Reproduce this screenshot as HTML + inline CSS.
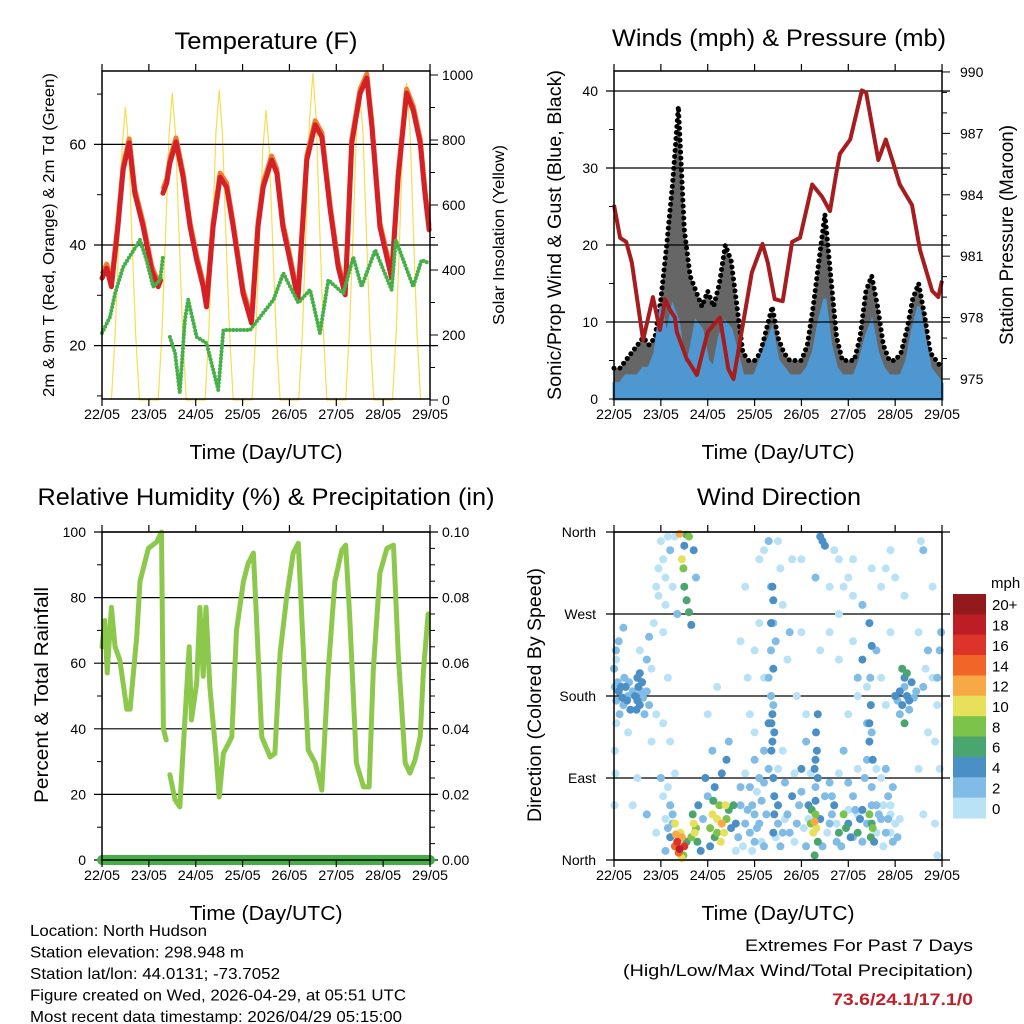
<!DOCTYPE html>
<html><head><meta charset="utf-8"><style>
html,body{margin:0;padding:0;background:#fff;}
svg{display:block;font-family:"Liberation Sans",Arial,sans-serif;}
</style></head><body>
<svg id="chart" width="1024" height="1024" viewBox="0 0 1024 1024" xmlns="http://www.w3.org/2000/svg"></svg>
<script>
// ---------- DATA ----------
const dayLabels = ["22/05","23/05","24/05","25/05","26/05","27/05","28/05","29/05"];
const tempDays = [0,.1,.2,.34,.45,.58,.7,.88,1.06,1.2,1.25,null,1.3,1.38,1.45,1.58,1.73,1.88,2.02,2.16,2.23,2.37,2.52,2.66,2.8,3.01,3.19,3.33,3.44,3.62,3.73,3.86,4.01,4.18,4.37,4.55,4.69,4.87,5.04,5.19,5.33,5.51,5.65,5.76,5.93,6.18,6.32,6.5,6.64,6.79,6.89,6.98];
const tempVals = [33.4,35.4,31.7,43.6,54.9,60.3,50.3,43.6,35,31.7,33,null,50.3,52.3,56.3,60.5,53.5,43.6,37,31.7,27.7,43.6,53.5,51.5,43.6,30.4,24.5,43.6,51.5,56.9,54.3,43.6,37,29.1,56.9,63.9,61.5,47,35.6,30.1,60.3,70.2,73.2,63.5,43.6,33.4,53.5,70.2,66.8,60.3,50.3,43];
const dewDays = [0,.17,.28,.45,.81,.95,1.09,1.24,1.3,null,1.45,1.56,1.66,1.77,1.84,2.02,2.23,2.48,2.59,2.8,3.16,3.44,3.66,3.87,4.19,4.44,4.65,4.83,5.15,5.36,5.54,5.83,6.18,6.27,6.43,6.64,6.82,6.98];
const dewVals = [22.5,25.7,30.4,35.6,41,37,31.7,33,37.6,null,21.7,18.5,10.6,25.1,29.1,21.7,20.5,11.2,23.1,23.1,23.1,26.5,29.1,34.4,28.5,31.1,22.5,33,30.4,37.6,31.7,39,31.1,41,37,31.7,37,36.4];
const solarPeaks = [902,945,954,892,1006,954,975];
const solarShapeOffsets = [.2,.28,.36,.43,.5,.57,.64,.72,.8];
const solarShapeFrac = [0,.22,.55,.86,1,.86,.55,.22,0];
const windVals = [2,2,3,3,3,4,4,6,12,8,12,10,4,6,10,9,5,4,8,10,9,6,3,3,3,5,7,9,5,4,3,3,3,4,6,10,13,7,4,3,3,3,5,8,10,6,4,3,3,3,5,9,12,8,4,3,2];
const gustVals = [4,4,5,6,7,8,7,8,13,20,28,38,22,16,14,12,14,12,15,20,18,12,6,5,5,6,9,12,8,6,5,5,5,7,12,18,24,16,8,5,5,5,8,14,16,12,7,5,5,6,9,13,15,11,6,5,4];
const presDays = [0,.13,.26,.38,.62,.83,.98,1.09,1.19,1.3,1.34,1.55,1.77,2.0,2.15,2.26,2.44,2.55,2.94,3.17,3.28,3.43,3.6,3.8,3.97,4.23,4.44,4.61,4.74,4.82,5.04,5.29,5.38,5.64,5.8,5.94,6.1,6.36,6.53,6.79,6.92,7];
const presVals = [983.5,981.9,981.7,980.7,976.9,979,977.4,978.9,978.4,978,977.3,976,975.2,977.3,977.7,978,975.5,975,980.2,981.6,980.7,978.9,978.8,981.7,981.9,984.5,983.9,983.2,985,986,986.7,989.1,989,985.7,986.7,985.7,984.5,983.5,981.3,979.3,979,979.8];
const rhDays = [0,.06,.11,.2,.28,.38,.53,.6,.74,.81,.99,1.17,1.27,1.31,1.37,null,1.45,1.56,1.66,1.77,1.86,1.91,2.02,2.09,2.16,2.22,2.3,2.43,2.5,2.59,2.77,2.87,3.02,3.12,3.23,3.3,3.41,3.59,3.69,3.8,3.94,4.08,4.19,4.3,4.4,4.55,4.69,4.83,4.97,5.12,5.2,5.29,5.43,5.58,5.7,5.79,5.93,6.08,6.22,6.32,6.47,6.57,6.68,6.79,6.86,6.96];
const rhVals = [65,73,57,77,65,61,46,46,68,85,95,97,100,40,36.6,null,26,18.3,16.2,42.7,65,42.7,54,77,56,77,53,32.5,19.2,32.5,37.5,70,85,90.5,93.6,73,37.5,31.4,32.5,63,80,93.6,96.6,63,33.5,29.6,21.3,58,85,94.5,96,73,29.6,22.3,22.3,58,87.5,95,96,63,29.6,26.5,30.5,37.5,58,75];
const precipDays = [0,7];
const precipVals = [0,0];
const dirPoints = [
[.05,175,3],[.1,185,4],[.12,160,2],[.15,190,4],[.18,178,4],[.2,170,3],[.22,200,3],[.25,190,4],[.28,175,4],[.3,180,3],[.32,195,3],[.35,165,4],[.4,185,2],[.08,195,2],[.05,150,1],[.02,120,1],[.1,240,2],[.2,255,3],[.05,220,1],[.0,210,2],[.02,190,2],[.04,230,2],[.01,60,1],[.03,95,1],
[.45,180,4],[.5,175,4],[.52,190,4],[.55,170,4],[.5,200,4],[.58,185,3],[.6,195,4],[.48,165,4],[.55,205,4],[.62,178,3],[.65,160,2],[.7,185,3],[.75,170,2],[.8,210,1],[.9,160,1],[.55,230,1],[.7,220,2],[.75,245,2],[.8,130,1],
[.9,300,1],[1.0,350,1],[.95,320,1],[1.1,280,1],[1.2,340,2],[1.3,355,1],[1.25,300,1],[1.35,270,2],[1.05,250,1],[.85,260,1],[1.15,200,1],[1.05,150,1],
[1.4,358,12],[1.55,357,6],[1.6,355,8],[1.5,345,4],[1.48,320,8],[1.5,300,6],[1.45,330,10],[1.55,285,6],[1.6,272,6],[1.65,258,4],[1.7,340,4],[1.75,310,3],
[1.3,15,14],[1.35,20,16],[1.4,12,18],[1.45,25,12],[1.38,8,14],[1.42,30,10],[1.5,15,16],[1.32,28,12],[1.48,5,8],[1.55,20,6],[1.2,25,4],[1.1,10,2],[1.15,35,2],[1.25,50,2],[1.05,70,1],[1.3,40,10],[1.45,2,10],
[1.65,25,8],[1.7,40,10],[1.75,35,8],[1.78,20,6],[1.68,50,6],[1.72,30,10],[1.8,60,4],[1.85,10,4],[1.9,45,3],[1.95,90,4],[2.0,70,2],
[2.05,35,8],[2.1,50,10],[2.15,25,6],[2.2,45,10],[2.25,60,8],[2.3,40,12],[2.35,30,10],[2.4,45,8],[2.45,55,6],[2.2,30,8],[2.12,65,6],[2.28,20,10],[2.38,60,10],[2.5,35,4],[2.55,60,6],[2.6,40,4],[2.15,80,4],[2.3,95,4],[2.4,110,4],[2.05,15,4],[2.1,120,2],[2.45,130,2],[2.0,160,1],[2.2,190,1],
[2.7,60,2],[2.8,40,3],[2.9,80,2],[3.0,50,3],[3.1,90,2],[3.2,120,3],[3.3,150,4],[3.35,180,3],[3.4,210,4],[3.45,240,3],[3.3,100,2],[3.5,60,4],[3.6,30,2],[3.7,50,3],[3.8,70,4],[3.9,40,3],[4.0,100,4],[4.1,130,3],[4.15,60,4],
[3.38,160,4],[3.42,140,4],[3.36,120,4],[3.4,90,4],[3.42,70,4],[3.3,200,3],[3.35,230,3],[3.35,260,4],[3.4,285,4],[3.38,300,4],[2.9,30,3],[3.0,20,2],[3.1,40,3],[3.2,15,2],[2.95,60,3],[3.15,65,3],[3.5,40,3],
[4.2,40,8],[4.25,30,10],[4.3,50,8],[4.35,20,6],[4.28,42,12],[4.22,55,6],[4.32,35,10],[4.4,45,4],[4.5,70,3],[4.3,65,4],[4.35,90,4],[4.3,110,4],[4.28,5,6],
[3.2,200,1],[3.0,140,1],[2.9,160,1],[3.6,280,1],[3.8,330,1],[4.0,250,1],[2.8,300,1],[3.1,330,1],[4.6,300,1],[4.7,340,1],[4.45,350,4],[4.5,345,4],[4.4,355,4],[3.4,260,3],[3.35,300,2],[3.3,350,2],[2.7,240,1],[2.85,200,1],[3.7,220,1],[3.9,180,1],[4.1,160,1],[3.6,120,1],[3.75,250,2],
[4.6,40,3],[4.7,60,4],[4.8,30,6],[4.9,50,8],[5.0,40,4],[5.1,70,3],[5.2,30,6],[5.3,55,4],[5.4,40,3],[5.5,60,2],[4.95,35,6],[5.05,25,4],[5.15,55,2],[5.25,45,4],[4.75,20,2],[4.65,70,2],
[4.9,120,2],[5.0,160,1],[5.2,200,2],[5.4,150,2],[5.6,100,1],[5.8,170,1],[5.9,250,1],[5.5,320,1],[5.3,280,2],[5.0,310,1],[4.8,270,1],[5.7,300,1],[5.9,340,1],[5.6,230,2],[5.4,110,3],[5.35,90,3],[5.45,130,4],[5.3,220,4],[5.1,330,1],
[5.5,40,6],[5.45,50,8],[5.48,25,6],[5.52,35,8],[5.55,20,4],[5.6,60,2],[5.7,45,2],[5.8,30,2],[5.85,70,2],[5.9,50,1],[5.95,20,2],[6.0,40,1],[5.75,15,1],
[6.0,180,4],[6.05,175,3],[6.1,185,4],[6.15,170,4],[6.2,190,3],[6.25,180,4],[6.3,165,3],[6.35,195,4],[6.4,178,3],[6.45,185,2],[6.1,160,3],[6.2,200,4],[6.3,175,4],[6.25,205,6],[6.15,210,6],[6.2,150,6],[6.6,190,2],[6.7,230,2],[6.65,210,1],[6.55,350,1],[6.6,340,2],[6.95,230,2],[6.9,200,2],[6.98,250,2],[6.95,100,1],
[.3,140,1],[.5,90,1],[.4,60,1],[.7,50,2],[.9,30,1],[1.0,90,2],[1.2,130,1],[6.6,50,1],[6.5,100,1],[5.8,100,2],[5.9,60,1],[6.7,140,1],[6.8,300,1],[6.85,40,1],[6.9,5,1],
[2.6,10,1],[2.65,25,2],[2.75,15,1],[2.85,55,2],[2.95,10,1],[3.05,35,2],[3.15,20,1],[3.25,50,2],[3.45,25,1],[3.55,15,2],[3.65,45,1],[3.75,30,2],[3.85,20,1],[3.95,60,2],[4.05,35,1],[4.1,15,2],[4.15,45,1],[4.45,15,2],[4.55,30,1],[4.65,50,2],[4.75,40,1],[4.85,15,2],[5.0,55,1],[5.1,25,2],[5.2,50,1],[5.3,20,2],[5.6,30,1],[5.65,50,2],[5.75,60,1],[5.85,45,2],[5.9,30,1],[6.05,25,2],[6.1,45,1],
[2.7,80,2],[2.8,95,1],[3.0,110,2],[3.05,75,1],[3.2,85,2],[3.5,100,1],[3.65,85,2],[3.85,95,1],[4.0,75,2],[4.2,95,1],[4.6,85,2],[4.8,95,1],[5.0,85,2],[5.2,100,1],[5.5,80,2],[5.7,90,1],[5.95,80,2],
[1.2,60,2],[1.25,40,2],[1.15,80,1],[1.3,95,1],[1.1,45,1],[3.38,130,4],[3.36,150,4],[3.4,170,3],[3.42,50,4],[3.4,30,4],[4.33,120,4],[4.31,140,4],[4.3,80,3],[4.28,100,4],[4.35,160,4],[5.45,150,4],[5.48,170,4],[5.5,140,3],[5.52,110,4],[5.47,200,3],[5.5,235,4],[5.45,260,4],
[1.05,330,1],[1.1,310,1],[.95,290,1],[1.15,355,1],[3.2,340,1],[3.5,350,1],[3.55,320,1],[4.0,330,1],[4.3,310,2],[4.8,330,1],[4.9,300,1],[5.1,290,1],[5.8,320,1],[6.0,310,1],[6.2,290,1],[3.1,260,1],[3.0,230,1],[4.4,230,1],[4.6,250,1],[4.8,220,1],[5.1,240,1],[5.2,180,1],[5.4,190,1],[5.7,200,1],[6.5,250,1],[6.8,200,1],[6.9,170,1],[6.85,130,1]
];
const speedBins = [0,2,4,6,8,10,12,14,16,18,20];
const speedLabels = ["0","2","4","6","8","10","12","14","16","18","20+"];
const speedColors = ["#b9e2f7","#80bce6","#4a8fc6","#4aa56e","#7cc34b","#e6e05a","#f8a945","#f26529","#dc3428","#bd1d25","#921a1c"];

// ---------- SCALES ----------
const DAY = 46.86;
const xL = d => 102 + d*DAY;
const xR = d => 614 + d*DAY;
const yT = t => 245 - (t-40)*5.03;
const ySol = w => 400 - w*0.325;
const yWind = v => 399 - v*7.7;
const yP = p => 379 - (p-975)*20.47;
const yRH = h => 860 - h*3.28;
const yPrec = p => 860 - p*3280;
const yDir = g => 860 - g*328/360;

const NS = "http://www.w3.org/2000/svg";
const svg = document.getElementById("chart");
function mk(tag, attrs, parent){
  const e = document.createElementNS(NS, tag);
  for (const k in attrs) e.setAttribute(k, attrs[k]);
  (parent||svg).appendChild(e);
  return e;
}
function txt(s, x, y, size, anchor, extra){
  const t = mk("text", Object.assign({x:x, y:y, "font-size":size, "text-anchor":anchor||"start", fill:"#000"}, extra||{}));
  t.textContent = s;
  return t;
}
function pathFrom(days, vals, xf, yf){
  let d = "", pen = false;
  for (let i=0;i<days.length;i++){
    if (days[i]===null || vals[i]===null){ pen=false; continue; }
    d += (pen?"L":"M") + xf(days[i]).toFixed(1) + " " + yf(vals[i]).toFixed(1) + " ";
    pen = true;
  }
  return d;
}
function frame(x0, y0, x1, y1){
  const g = mk("g", {});
  
  
  mk("rect", {x:x0, y:y0, width:x1-x0, height:y1-y0, fill:"none", stroke:"#000", "stroke-width":1.5}, g);
  for (let i=0;i<=7;i++){
    const x = x0 + i*DAY;
    mk("line", {x1:x, y1:y0, x2:x, y2:y0-7, stroke:"#000", "stroke-width":1.2}, g);
    mk("line", {x1:x, y1:y1, x2:x, y2:y1+7, stroke:"#000", "stroke-width":1.2}, g);
    const t = txt(dayLabels[i], x, y1+20, 14, "middle", {textLength:36, lengthAdjust:"spacingAndGlyphs"});
    
    
  }
  const xt = txt("Time (Day/UTC)", (x0+x1)/2, y1+60, 20, "middle", {textLength:153, lengthAdjust:"spacingAndGlyphs"});
  
  
}
function hgrid(x0, x1, y, major){
  const l = mk("line", {x1:x0-(major?8:5), y1:y, x2:major? x1+8 : x0, y2:y, stroke:"#000", "stroke-width":major?1.2:1});
  
  
}
function rtick(x1, y, len){
  const l = mk("line", {x1:x1, y1:y, x2:x1+len, y2:y, stroke:"#000", "stroke-width":1});
  
  
}
function title(s, x, y, w){
  const t = txt(s, x, y, 24, "middle", {textLength:w, lengthAdjust:"spacingAndGlyphs"});
  
  
}
function vlabel(s, x, yc, size, len){
  const t = txt(s, 0, 0, size, "middle", {transform:`translate(${x},${yc}) rotate(-90)`, textLength:len, lengthAdjust:"spacingAndGlyphs"});
  
  
}

// ---------- PANEL 1: TEMPERATURE ----------
title("Temperature (F)", 266, 49, 183);
let solD = [], solV = [];
for (let k=0;k<7;k++){ for (let j=0;j<solarShapeOffsets.length;j++){ solD.push(k+solarShapeOffsets[j]); solV.push(solarPeaks[k]*solarShapeFrac[j]); } }
const solar = mk("path", {d:pathFrom(solD, solV, xL, ySol), fill:"none", stroke:"#f9dc4f", "stroke-width":1.2});


[20,40,60].forEach(v=>hgrid(102,430,yT(v),true));
[10,30,50,70].forEach(v=>hgrid(102,430,yT(v),false));
[20,40,60].forEach(v=>{ const t=txt(String(v), 86, yT(v)+5, 15, "end");   });
for (let w=0; w<=1000; w+=100) rtick(430, ySol(w), w%200===0?8:5);
[0,200,400,600,800,1000].forEach(v=>{ const t=txt(String(v), 442, ySol(v)+5, 14, "start");   });
const t9 = mk("path", {d:pathFrom(tempDays, tempVals.map(v=>v===null?null:v+0.8), xL, yT), fill:"none", stroke:"#f47c2a", "stroke-width":5, "stroke-linejoin":"round"});


const t2 = mk("path", {d:pathFrom(tempDays, tempVals, xL, yT), fill:"none", stroke:"#d42128", "stroke-width":5, "stroke-linejoin":"round", "stroke-linecap":"round"});


const dp = mk("path", {d:pathFrom(dewDays, dewVals, xL, yT), fill:"none", stroke:"#46b048", "stroke-width":4, "stroke-dasharray":"0 3.5", "stroke-linecap":"round"});


frame(102,71,430,399);
vlabel("2m & 9m T (Red, Orange) & 2m Td (Green)", 54, 235, 16, 324);
vlabel("Solar Insolation (Yellow)", 504, 235, 16, 180);

// ---------- PANEL 2: WINDS ----------
title("Winds (mph) & Pressure (mb)", 779, 46, 334);
const wDays = windVals.map((v,i)=>i/8);
let gArea = "M" + xR(0) + " " + yWind(0);
wDays.forEach((d,i)=>{ gArea += " L" + xR(d).toFixed(1) + " " + yWind(gustVals[i]).toFixed(1); });
gArea += " L" + xR(7) + " " + yWind(0) + " Z";
const ga = mk("path", {d:gArea, fill:"#000", "fill-opacity":0.6});


const gl = mk("path", {d:pathFrom(wDays, gustVals, xR, yWind), fill:"none", stroke:"#000", "stroke-width":5, "stroke-dasharray":"0 6", "stroke-linecap":"round"});


let wArea = "M" + xR(0) + " " + yWind(0);
wDays.forEach((d,i)=>{ wArea += " L" + xR(d).toFixed(1) + " " + yWind(windVals[i]).toFixed(1); });
wArea += " L" + xR(7) + " " + yWind(0) + " Z";
const wa = mk("path", {d:wArea, fill:"#4f97d1", stroke:"#4f97d1", "stroke-width":3});


[0,10,20,30,40].forEach(v=>hgrid(614,942,yWind(v),v>0));
[5,15,25,35].forEach(v=>hgrid(614,942,yWind(v),false));
[0,10,20,30,40].forEach(v=>{ const t=txt(String(v), 598, yWind(v)+5, 14, "end");   });
for (let p=975;p<=990;p++) rtick(942, yP(p), p%3===0?8:5);
[975,978,981,984,987,990].forEach(v=>{ const t=txt(String(v), 960, yP(v)+5, 14, "start");   });
const pl = mk("path", {d:pathFrom(presDays, presVals, xR, yP), fill:"none", stroke:"#a51d1f", "stroke-width":4, "stroke-linejoin":"round"});


frame(614,71,942,399);
vlabel("Sonic/Prop Wind & Gust (Blue, Black)", 561, 235, 19, 330);
vlabel("Station Pressure (Maroon)", 1013, 235, 19, 220);

// ---------- PANEL 3: RH ----------
title("Relative Humidity (%) & Precipitation (in)", 266, 505, 457);
[20,40,60,80].forEach(v=>hgrid(102,430,yRH(v),true));
[10,30,50,70,90].forEach(v=>hgrid(102,430,yRH(v),false));
hgrid(102,430,yRH(0),true); hgrid(102,430,yRH(100),true);
[0,20,40,60,80,100].forEach(v=>{ const t=txt(String(v), 86, yRH(v)+5, 14, "end");   });
for (let i=0;i<=20;i++) rtick(430, yPrec(i*0.005), i%4===0?8:5);
[0,0.02,0.04,0.06,0.08,0.1].forEach(v=>{ const t=txt(v.toFixed(2), 442, yPrec(v)+5, 14, "start");   });
const rh = mk("path", {d:pathFrom(rhDays, rhVals, xL, yRH), fill:"none", stroke:"#8cc84b", "stroke-width":5, "stroke-linejoin":"round", "stroke-linecap":"round"});


const pr = mk("path", {d:pathFrom(precipDays, precipVals, xL, yPrec), fill:"none", stroke:"#45ae48", "stroke-width":10, "stroke-linecap":"round"});


frame(102,532,430,860);
vlabel("Percent & Total Rainfall", 48, 695, 19, 216);

// ---------- PANEL 4: WIND DIRECTION ----------
title("Wind Direction", 779, 505, 164);
const dirNames = ["North","East","South","West","North"];
[0,90,180,270,360].forEach((g,i)=>{
  hgrid(614,942,yDir(g),true);
  const t=txt(dirNames[i], 596, yDir(g)+5, 14, "end");
  
  
});
function binIndex(s){ let k=0; for (let i=0;i<speedBins.length;i++) if (s>=speedBins[i]) k=i; return k; }
const sortedPts = dirPoints.slice().sort((a,b)=>a[2]-b[2]);
sortedPts.forEach(p=>{
  const c = mk("circle", {cx:xR(p[0]).toFixed(1), cy:yDir(p[1]).toFixed(1), r:4, fill:speedColors[binIndex(p[2])]});
  
  
});
frame(614,532,942,860);
vlabel("Direction (Colored By Speed)", 541, 695, 19, 254);
const cbTop = 594, cbH = 224/11;
for (let i=0;i<11;i++){
  const k = 10-i;
  const r = mk("rect", {x:953, y:(cbTop+i*cbH).toFixed(1), width:33, height:(cbH+0.5).toFixed(1), fill:speedColors[k]});
  
  
  const t = txt(speedLabels[k], 992, cbTop+i*cbH+cbH/2+6, 15, "start");
  
  
}
const mph = txt("mph", 991, 588, 15, "start");



// ---------- FOOTER ----------
const info = [["Location: North Hudson",177],["Station elevation: 298.948 m",214],["Station lat/lon: 44.0131; -73.7052",250],["Figure created on Wed, 2026-04-29, at 05:51 UTC",376],["Most recent data timestamp: 2026/04/29 05:15:00",372]];
info.forEach((s,i)=>{
  const t = txt(s[0], 30, 936+i*21.5, 16, "start", {textLength:s[1], lengthAdjust:"spacingAndGlyphs"});
  
  
});
const e1 = txt("Extremes For Past 7 Days", 973, 951, 17, "end", {textLength:228, lengthAdjust:"spacingAndGlyphs"});


const e2 = txt("(High/Low/Max Wind/Total Precipitation)", 973, 976, 17, "end", {textLength:350, lengthAdjust:"spacingAndGlyphs"});


const e3 = txt("73.6/24.1/17.1/0", 973, 1005, 17, "end", {textLength:141, lengthAdjust:"spacingAndGlyphs", fill:"#c0202a", "font-weight":"bold"});


</script>
</body></html>
